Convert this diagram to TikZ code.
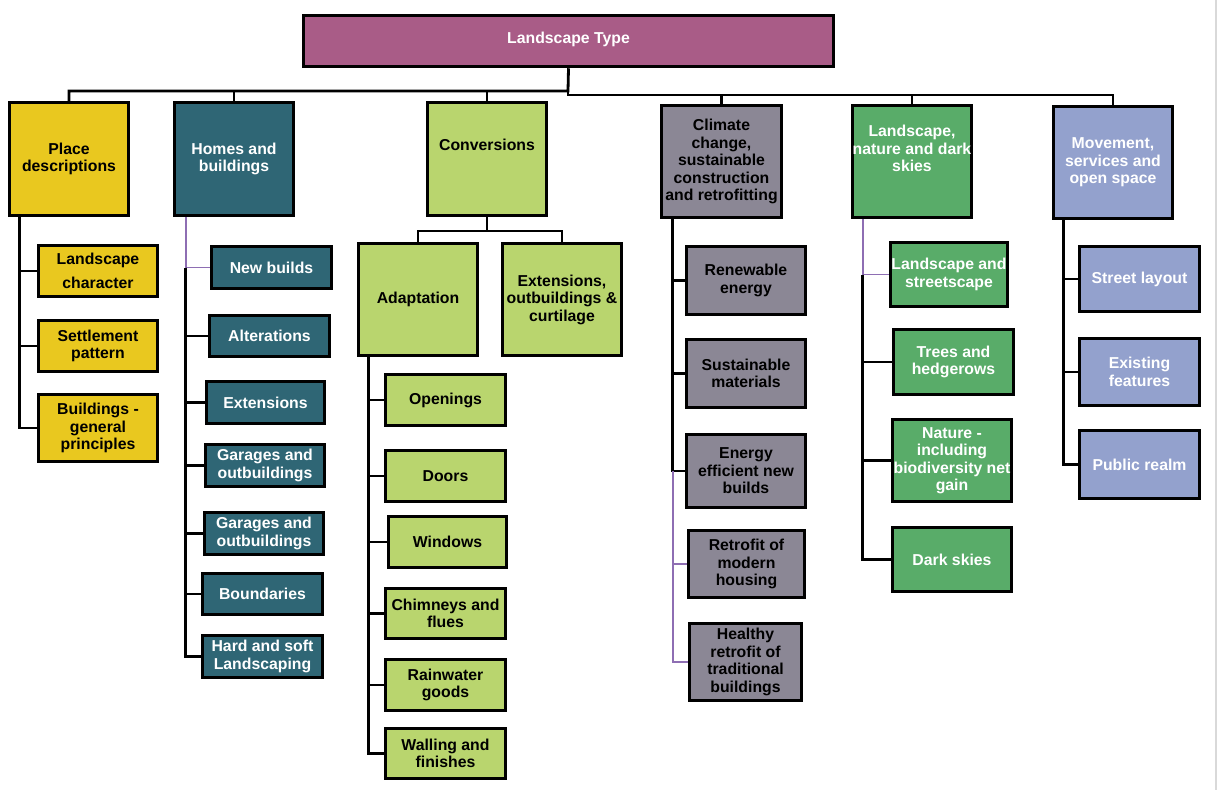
\documentclass[tikz,border=0pt]{standalone}
\usepackage{fontspec}
\setmainfont{Liberation Sans}
\definecolor{cMag}{HTML}{A95C87}
\definecolor{cYel}{HTML}{E9C81F}
\definecolor{cTeal}{HTML}{2F6675}
\definecolor{cLG}{HTML}{B9D56E}
\definecolor{cGrey}{HTML}{8B8795}
\definecolor{cGreen}{HTML}{59AC69}
\definecolor{cPeri}{HTML}{93A1CD}
\definecolor{cPurp}{HTML}{8E6EB3}
\definecolor{cEdge}{HTML}{D9D9D9}
\tikzset{
  box/.style={draw=black, line width=3pt, inner sep=0pt, rectangle},
  txt/.style={align=center, inner sep=0pt, font=\bfseries\fontsize{15.8}{17.5}\selectfont},
  conn/.style={draw=black, line width=2.8pt},
  purp/.style={draw=cPurp, line width=1.6pt},
}
% #1 text shift up, #2 name, #3 x1, #4 y1, #5 x2, #6 y2, #7 fill, #8 text colour, #9 text
\newcommand{\bx}[9][0]{%
  \node[box, fill=#7, minimum width={(#5-#3-2.5)*1pt}, minimum height={(#6-#4-2.5)*1pt}]
    (#2) at ({(#3+#5)/2},{(#4+#6)/2}) {};
  \node[txt, text=#8, yshift=#1pt] (#2-t) at (#2.center) {#9};
}
\begin{document}
\begin{tikzpicture}[x=1pt,y=-1pt]
\useasboundingbox (0,0) rectangle (1219,790);
\fill[white] (0,0) rectangle (1219,790);
\draw[cEdge, line width=1.5pt] (1216,0) -- (1216,790);

% title and column heads
\bx[2]{title}{302}{14}{835}{68}{cMag}{white}{Landscape Type}
\bx{place}{8}{101}{130}{217}{cYel}{black}{Place\\descriptions}
\bx{homes}{173}{101}{295}{217}{cTeal}{white}{Homes and\\buildings}
\bx[14]{conv}{426}{101}{548}{217}{cLG}{black}{Conversions}
\bx{clim}{660}{104}{783}{219}{cGrey}{black}{Climate\\change,\\sustainable\\construction\\and retrofitting}
\bx[13]{land}{851}{104}{973}{219}{cGreen}{white}{Landscape,\\nature and dark\\skies}
\bx{mov}{1052}{105}{1174}{220}{cPeri}{white}{Movement,\\services and\\open space}

% place descriptions
\bx{lc}{37}{244}{159}{298}{cYel}{black}{Landscape\\[7pt]character}
\bx{sp}{37}{319}{159}{373}{cYel}{black}{Settlement\\pattern}
\bx{bg}{37}{393}{159}{463}{cYel}{black}{Buildings -\\general\\principles}

% homes and buildings
\bx{nb}{210}{245}{333}{290}{cTeal}{white}{New builds}
\bx{alt}{208}{314}{331}{358}{cTeal}{white}{Alterations}
\bx{ext}{205}{380}{326}{425}{cTeal}{white}{Extensions}
\bx{gar1}{204}{443}{326}{488}{cTeal}{white}{Garages and\\outbuildings}
\bx{gar2}{203}{511}{325}{556}{cTeal}{white}{Garages and\\outbuildings}
\bx{bnd}{201}{572}{324}{616}{cTeal}{white}{Boundaries}
\bx{hsl}{201}{634}{324}{679}{cTeal}{white}{Hard and soft\\Landscaping}

% conversions
\bx{adapt}{357}{242}{479}{357}{cLG}{black}{Adaptation}
\bx{eoc}{501}{242}{623}{357}{cLG}{black}{Extensions,\\outbuildings \&\\curtilage}
\bx{open}{384}{373}{507}{427}{cLG}{black}{Openings}
\bx{door}{384}{449}{507}{503}{cLG}{black}{Doors}
\bx{win}{387}{515}{508}{569}{cLG}{black}{Windows}
\bx{chim}{384}{587}{507}{640}{cLG}{black}{Chimneys and\\flues}
\bx{rain}{384}{658}{507}{712}{cLG}{black}{Rainwater\\goods}
\bx{wall}{384}{727}{507}{780}{cLG}{black}{Walling and\\finishes}

% climate change
\bx{ren}{685}{245}{807}{316}{cGrey}{black}{Renewable\\energy}
\bx{sus}{685}{338}{807}{409}{cGrey}{black}{Sustainable\\materials}
\bx{eeb}{685}{433}{807}{509}{cGrey}{black}{Energy\\efficient new\\builds}
\bx{rmh}{687}{529}{806}{599}{cGrey}{black}{Retrofit of\\modern\\housing}
\bx{hrt}{688}{622}{803}{702}{cGrey}{black}{Healthy\\retrofit of\\traditional\\buildings}

% landscape, nature
\bx{lss}{889}{241}{1009}{308}{cGreen}{white}{Landscape and\\streetscape}
\bx{trh}{892}{328}{1015}{396}{cGreen}{white}{Trees and\\hedgerows}
\bx{nat}{891}{418}{1013}{503}{cGreen}{white}{Nature -\\including\\biodiversity net\\gain}
\bx{dsk}{891}{526}{1013}{593}{cGreen}{white}{Dark skies}

% movement
\bx{stl}{1078}{245}{1201}{313}{cPeri}{white}{Street layout}
\bx{exf}{1078}{337}{1201}{407}{cPeri}{white}{Existing\\features}
\bx{pub}{1078}{429}{1201}{500}{cPeri}{white}{Public realm}

% top buses
\coordinate (busL) at (568,91);
\coordinate (busR) at (568,95);
\draw[conn] (place.north) |- (busL) -- (title.south);
\draw[conn] (homes.north) -- (homes.north |- busL);
\draw[conn] (conv.north) -- (conv.north |- busL);
\draw[conn] (mov.north) |- (busR) -- (busL);
\draw[conn] (clim.north) -- (clim.north |- busR);
\draw[conn] (land.north) -- (land.north |- busR);

% place descriptions trunk
\coordinate (pT) at ([xshift=12pt]place.south west);
\foreach \c in {lc,sp,bg} \draw[conn] (pT) |- (\c.west);

% homes trunk
\coordinate (hT) at ([xshift=13pt]homes.south west);
\draw[purp] (hT) |- (nb.west);
\foreach \c in {alt,ext,gar1,gar2,bnd,hsl} \draw[conn] (hT |- nb.west) |- (\c.west);

% conversions split
\coordinate (cjy) at (0,231);
\coordinate (cj) at (conv.south |- cjy);
\draw[conn] (conv.south) -- (cj);
\draw[conn] (adapt.north) |- (cj) -| (eoc.north);
\coordinate (aT) at ([xshift=12pt]adapt.south west);
\foreach \c in {open,door,win,chim,rain,wall} \draw[conn] (aT) |- (\c.west);

% climate trunk
\coordinate (cT) at ([xshift=13pt]clim.south west);
\foreach \c in {ren,sus,eeb} \draw[conn] (cT) |- (\c.west);
\draw[purp] (cT |- eeb.west) |- (rmh.west);
\draw[purp] (cT |- eeb.west) |- (hrt.west);

% landscape trunk
\coordinate (lT) at ([xshift=12pt]land.south west);
\draw[purp] (lT) |- (lss.west);
\foreach \c in {trh,nat,dsk} \draw[conn] (lT |- lss.west) |- (\c.west);

% movement trunk
\coordinate (mT) at ([xshift=12pt]mov.south west);
\foreach \c in {stl,exf,pub} \draw[conn] (mT) |- (\c.west);
\end{tikzpicture}
\end{document}
